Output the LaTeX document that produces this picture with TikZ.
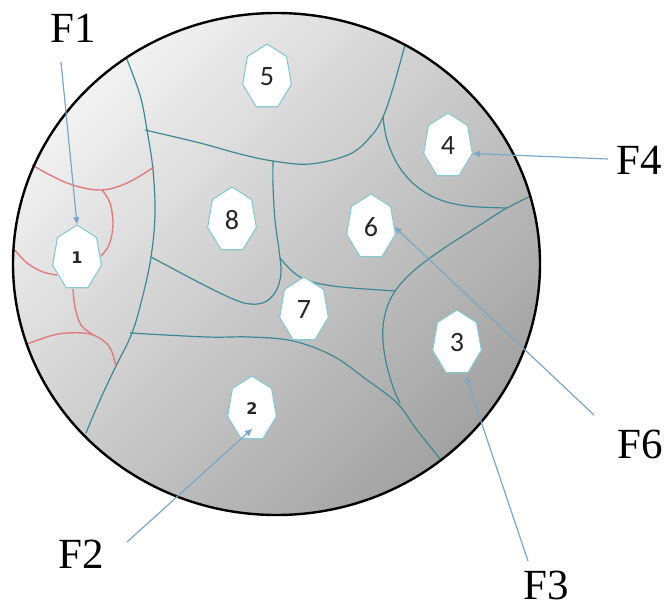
\documentclass[tikz,border=0pt]{standalone}
\usepackage{fontspec}
\setmainfont{Liberation Serif}
\newfontfamily\numfont{Carlito}
\newfontfamily\smallnumfont{DejaVu Sans}
\usetikzlibrary{shapes.geometric,arrows.meta,calc}
\definecolor{tealline}{HTML}{3B8996}
\definecolor{redline}{HTML}{E27C7C}
\definecolor{heptborder}{HTML}{86CAD4}
\definecolor{arrowblue}{HTML}{7BA7C9}
\definecolor{shadelight}{HTML}{F2F2F2}
\definecolor{shademid}{HTML}{D3D3D3}
\definecolor{shadedark}{HTML}{A2A2A2}
\begin{document}
\begin{tikzpicture}[x=1pt,y=-1pt,
  region/.style={draw=tealline, line width=1.2pt},
  redl/.style={draw=redline, line width=1.4pt},
  hept/.style={regular polygon, regular polygon sides=7, minimum size=50pt,
    inner sep=0pt, draw=heptborder, fill=white, line width=1.1pt,
    yscale=1.32, transform shape},
  numbig/.style={inner sep=0pt, font=\numfont\fontsize{28}{30}\selectfont, text=black!85},
  numsmall/.style={inner sep=0pt, font=\smallnumfont\bfseries\fontsize{16}{18}\selectfont, text=black!85},
  flabel/.style={inner sep=0pt, font=\fontsize{43}{45}\selectfont},
  farrow/.style={draw=arrowblue, line width=1.2pt,
    -{Triangle[length=7pt,width=6pt]}},
  smoothline/.style={smooth, tension=0.6}
]
\useasboundingbox (0,0) rectangle (669,608);

% disc
\shade[top color=shadelight, middle color=shademid, bottom color=shadedark, shading angle=45]
  (276.5,264) ellipse [x radius=263.5, y radius=251];

% teal region boundaries
\draw[region] plot[smoothline] coordinates {(126,57) (140,95) (147,130) (153,170) (155,215) (151,257) (143,295) (132,333) (115,368) (100,400) (86,433)};
\draw[region] plot[smoothline] coordinates {(145,130) (200,143) (240,154) (273,161) (310,164) (350,154) (372,135) (383,117) (393,88) (405,45)};
\draw[region] plot[smoothline] coordinates {(383,117) (387,140) (398,165) (415,185) (438,199) (467,206) (507,208)};
\draw[region] plot[smoothline] coordinates {(531,196) (507,208) (480,225) (437,253) (407,277) (390,300) (383,327) (385,357) (393,387) (400,403)};
\draw[region] plot[smoothline] coordinates {(130,333) (207,337) (250,337) (293,341) (333,356) (367,380) (397,403) (417,430) (441,460)};
\draw[region] plot[smoothline] coordinates {(273,161) (273,185) (275,220) (279,250) (281,273) (276,291) (265,302) (250,304) (233,299) (200,283) (151,257)};
\draw[region] plot[smoothline] coordinates {(280,258) (300,277) (333,286) (396,291)};

% red lines
\draw[redl] plot[smoothline] coordinates {(32,165) (67,183) (100,190) (127,183) (154,167)};
\draw[redl] plot[smoothline] coordinates {(102,190) (110,203) (113,225) (109,245) (101,256)};
\draw[redl] plot[smoothline] coordinates {(13,248) (27,263) (43,272) (57,275)};
\draw[redl] plot[smoothline] coordinates {(73,289) (75,307) (81,325) (92,334)};
\draw[redl] plot[smoothline] coordinates {(27,344) (50,336) (67,333) (90,334) (105,342) (112,352) (116,367)};

% heptagons
\node[hept] (h1) at (77,258) {};
\node[hept] (h2) at (252,409) {};
\node[hept] (h3) at (457,343) {};
\node[hept] (h4) at (448,146) {};
\node[hept] (h5) at (267,77) {};
\node[hept] (h6) at (371,227) {};
\node[hept] (h7) at (304,310) {};
\node[hept] (h8) at (232,220) {};
\node[numsmall] (n1) at (h1) {1};
\node[numsmall] (n2) at (h2) {2};
\node[numbig] (n3) at (h3) {3};
\node[numbig] (n4) at (h4) {4};
\node[numbig] (n5) at (h5) {5};
\node[numbig] (n6) at (h6) {6};
\node[numbig] (n7) at (h7) {7};
\node[numbig] (n8) at (h8) {8};

% outline
\draw[line width=2.4pt, black] (276.5,264) ellipse [x radius=263.5, y radius=251];

% labels
\node[flabel] (F1) at (73,28) {F1};
\node[flabel] (F2) at (81,554) {F2};
\node[flabel] (F3) at (546,585) {F3};
\node[flabel] (F4) at (639,160) {F4};
\node[flabel] (F6) at (640,444) {F6};

% arrows
\coordinate (t1) at (61,62);
\coordinate (t2) at (127,542);
\coordinate (t3) at (528,561);
\coordinate (t4) at (608,159);
\coordinate (t6) at (594,415);
\coordinate (tip2) at ($(h2.center)+(0,20)$);
\coordinate (tip3) at ($(h3.corner 4)!0.9!(h3.corner 5)+(0,3)$);
\draw[farrow] (t1) -- (h1.corner 1);
\draw[farrow] (t2) -- (tip2);
\draw[farrow] (t3) -- (tip3);
\draw[farrow] (t4) -- (h4.corner 6);
\draw[farrow] (t6) -- (h6.east);
\end{tikzpicture}
\end{document}
